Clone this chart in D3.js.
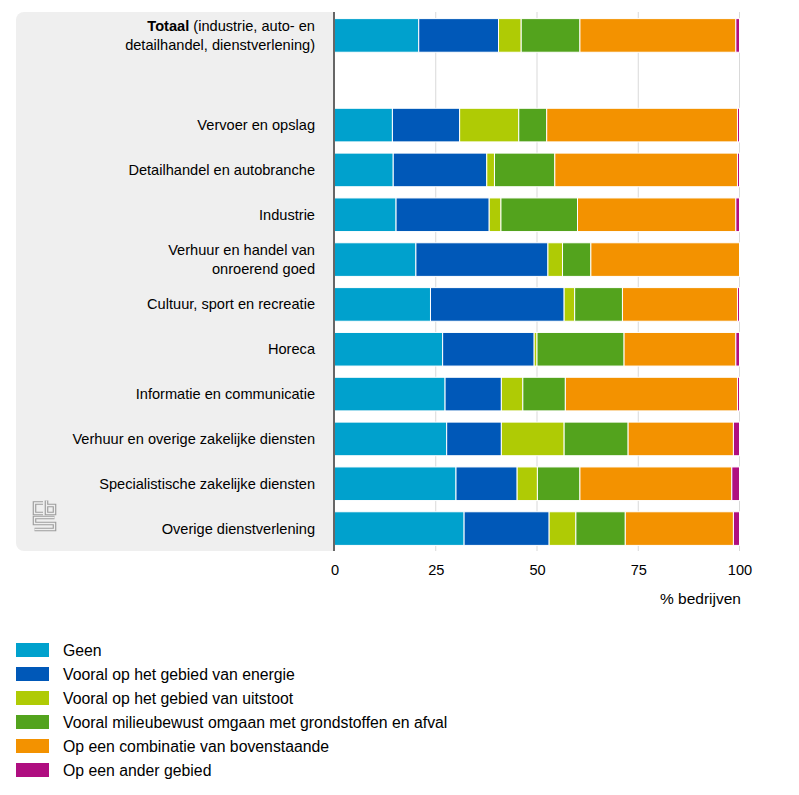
<!DOCTYPE html>
<html><head><meta charset="utf-8">
<script src="https://cdn.jsdelivr.net/npm/d3@7"></script>
<style>body{margin:0;background:#fff;}svg{display:block;font-family:Helvetica, Arial, "Liberation Sans", sans-serif;}</style>
</head><body>
<svg id="chart" width="799" height="795"></svg>
<script>
const categories = ["Totaal", "", "Vervoer en opslag", "Detailhandel en autobranche", "Industrie", "Verhuur en handel van onroerend goed", "Cultuur, sport en recreatie", "Horeca", "Informatie en communicatie", "Verhuur en overige zakelijke diensten", "Specialistische zakelijke diensten", "Overige dienstverlening"];
const seriesNames = ["Geen", "Vooral op het gebied van energie", "Vooral op het gebied van uitstoot", "Vooral milieubewust omgaan met grondstoffen en afval", "Op een combinatie van bovenstaande", "Op een ander gebied"];
const geen =       [20.8, null, 14.3, 14.5, 15.2, 20.1, 23.7, 26.7, 27.3, 27.7, 30.0, 32.0];
const energie =    [19.7, null, 16.6, 23.1, 23.0, 32.6, 33.0, 22.6, 13.9, 13.5, 15.1, 21.0];
const uitstoot =   [5.6,  null, 14.6, 1.9,  2.9,  3.6,  2.6,  0.7,  5.3,  15.5, 5.0,  6.6];
const afval =      [14.5, null, 6.9,  14.9, 18.9, 7.0,  11.8, 21.5, 10.5, 15.8, 10.5, 12.2];
const combinatie = [38.5, null, 47.1, 45.1, 39.1, 36.7, 28.4, 27.6, 42.5, 26.0, 37.5, 26.7];
const ander =      [0.9,  null, 0.5,  0.5,  0.9,  0.0,  0.5,  0.9,  0.5,  1.5,  1.9,  1.5];
const xTicks = [0, 25, 50, 75, 100];
const colors = ["#00a1cd", "#0058b8", "#afcb05", "#53a31d", "#f39200", "#af0e80"];

const svg = d3.select("#chart");
const seriesVals = [geen, energie, uitstoot, afval, combinatie, ander];
const keys = ["s0","s1","s2","s3","s4","s5"];
const rows = categories.map((c, i) => {
  const o = {cat: i};
  keys.forEach((k, j) => o[k] = seriesVals[j][i] == null ? 0 : seriesVals[j][i]);
  o.blank = seriesVals[0][i] == null;
  return o;
});

const x = d3.scaleLinear().domain([0, 100]).range([334.5, 739.5]);
const y = d3.scaleBand().domain(d3.range(categories.length)).range([13, 551]).paddingInner(0.25).paddingOuter(0.125);

// gray panel
svg.append("rect").attr("x", 16).attr("y", 12).attr("width", 330).attr("height", 539).attr("rx", 8).attr("fill", "#efefef");
svg.append("rect").attr("x", 334).attr("y", 0).attr("width", 20).attr("height", 560).attr("fill", "#fff");

// gridlines
svg.append("g").selectAll("line").data(xTicks.filter(d => d > 0)).join("line")
  .attr("x1", d => x(d)).attr("x2", d => x(d)).attr("y1", 12).attr("y2", 551)
  .attr("stroke", "#d9d9d9").attr("stroke-width", 1);

// bars
const stack = d3.stack().keys(keys)(rows);
svg.append("g").selectAll("g").data(stack).join("g")
  .attr("fill", (d, i) => colors[i])
  .selectAll("rect").data(d => d.filter(p => !p.data.blank && p[1] - p[0] > 0)).join("rect")
  .attr("x", d => x(d[0])).attr("width", d => x(d[1]) - x(d[0]))
  .attr("y", d => y(d.data.cat)).attr("height", y.bandwidth())
  .attr("stroke", "#fff").attr("stroke-width", 1);

// axis line
svg.append("line").attr("x1", 334).attr("x2", 334).attr("y1", 12).attr("y2", 551).attr("stroke", "#666").attr("stroke-width", 2);

// category labels
const labelG = svg.append("g").attr("font-size", 14.6).attr("fill", "#000").attr("text-anchor", "end");
const labelX = 315;
categories.forEach((c, i) => {
  const cy = y(i) + y.bandwidth() / 2;
  if (i === 0) {
    const t = labelG.append("text").attr("x", labelX).attr("y", cy - 4.5);
    t.append("tspan").attr("font-weight", "bold").text("Totaal");
    t.append("tspan").text(" (industrie, auto- en");
    labelG.append("text").attr("x", labelX).attr("y", cy + 14.5).text("detailhandel, dienstverlening)");
  } else if (c === "Verhuur en handel van onroerend goed") {
    labelG.append("text").attr("x", labelX).attr("y", cy - 4.5).text("Verhuur en handel van");
    labelG.append("text").attr("x", labelX).attr("y", cy + 14.5).text("onroerend goed");
  } else if (c) {
    labelG.append("text").attr("x", labelX).attr("y", cy + 5).text(c);
  }
});

// x axis tick labels
const xAxis = d3.axisBottom(x).tickValues(xTicks).tickSize(0).tickPadding(0);
const ax = svg.append("g").attr("transform", "translate(0,565)").call(xAxis);
ax.select(".domain").remove();
ax.selectAll("text").attr("font-size", 14.6).attr("fill", "#000").attr("font-family", "Helvetica, Arial, 'Liberation Sans', sans-serif")
  .attr("dy", "0.71em").attr("text-anchor", "middle");
svg.append("text").attr("x", 741).attr("y", 604).attr("text-anchor", "end").attr("font-size", 15.5).attr("fill", "#000").text("% bedrijven");

// CBS logo (double-line outline approximation)
const logoPaths = [
  "M43,503 H34.5 V513.5 H43",
  "M46.5,500.5 V513.5 H54.5 V505.5 H46.5",
  "M54.5,517.5 H34.5 V523.5 H54.5 V529.5 H34.5"
];
const logo = svg.append("g").attr("fill", "none").attr("stroke-linejoin", "miter").attr("stroke-linecap", "butt");
logoPaths.forEach(p => logo.append("path").attr("d", p).attr("stroke", "#9c9c9c").attr("stroke-width", 3.6));
logoPaths.forEach(p => logo.append("path").attr("d", p).attr("stroke", "#efefef").attr("stroke-width", 1.3));

// legend
const lg = svg.append("g").attr("font-size", 15.8).attr("fill", "#000");
seriesNames.forEach((n, i) => {
  const ly = 650 + i * 24;
  lg.append("rect").attr("x", 16).attr("y", ly - 7).attr("width", 33).attr("height", 14).attr("fill", colors[i]);
  lg.append("text").attr("x", 63).attr("y", ly + 5.5).text(n);
});
</script>
</body></html>
